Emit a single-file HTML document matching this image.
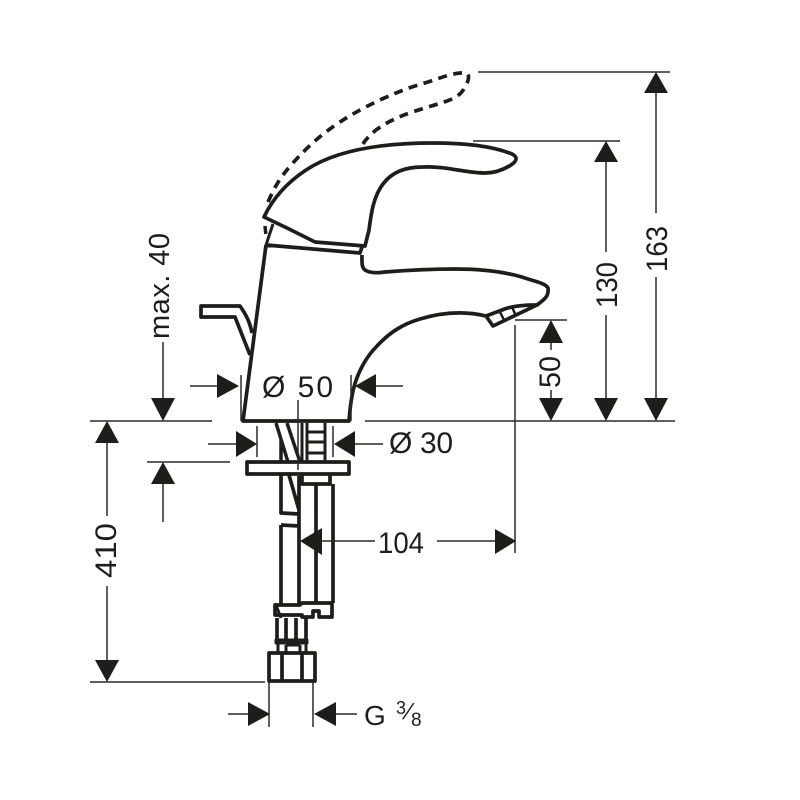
<!DOCTYPE html>
<html><head><meta charset="utf-8"><style>
html,body{margin:0;padding:0;background:#fff}
svg{display:block}
text{font-family:"Liberation Sans",sans-serif;font-size:30px;fill:#1d1d1b}
</style></head><body>
<svg width="800" height="800" viewBox="0 0 800 800" xmlns="http://www.w3.org/2000/svg">
<g fill="none" stroke="#1d1d1b" stroke-width="3" stroke-linejoin="round">
<!-- dashed handle -->
<path stroke-width="3.7" stroke-dasharray="9 6.5" d="M268 202C275 186 280 178 291 165C303 152 313 141 334 126C350 115 363 108 382 99C398 92 410 87 428 82C443 77 455 72 466 73C470 75 469 80 465 87C461 95 455 98 447 101C435 105 425 108 412 112C398 117 387 122 376 130C369 136 366 139 363 144"/>
<path stroke-width="3.5" stroke-dasharray="8 5" d="M265 226L266 236"/>
<!-- handle -->
<path stroke-width="3.7" d="M264 217C272 200 285 184 306 170C327 156 365 143 433 143C470 143 495 147 512 154C518 157 517 161 511 165C503 170 495 173 485 173C465 173 447 166 423 167C405 167 392 172 383 184C373 197 371 215 369 230L365 246L315 242L287 228L264 217Z"/>
<path d="M273 224L266 245"/>
<!-- body -->
<path stroke-width="3.7" d="M266 245L360 253L362 247M266 245L243 421H349C350 408 351 398 354 387C358 372 366 357 377 346C390 332 403 324 420 319C443 312 465 311 486 316"/>
<path stroke-width="3.7" d="M362 255C362 262 361 269 367 271C371 273 378 273 385 272C410 270 430 269 455 269C480 269 505 271 528 279C538 282 546 284 548 288C549 296 545 299 537 305"/>
<path stroke-width="3.7" d="M486 316L493 326L537 305C524 305 511 306 502 310L486 316Z"/>
<path stroke-width="2.5" d="M500 312L505 322M512 307L516 316"/>
<!-- lever -->
<path stroke-width="3.7" d="M252 333C250 323 247 316 240 306H201V317H235L250 355"/>
<!-- lower parts -->
<path stroke-width="3.7" d="M247 462H349V474H247Z"/>
<path stroke-width="3.5" d="M276 423L288 462M287 423L300 462M281 440V462"/>
<path stroke-width="3" d="M302 423V462M307 423V462M325 423V462M307 432H325M307 442H325M307 453H325"/>
<path stroke-width="3.7" d="M281 475V513L299 514M289 475L299 510M281 525L299 526M281 525V605M299 476V605M302 475V484H330V475M316 484V603M333 484V603"/>
<path stroke-width="3.7" d="M302 603H332V617H319V611H313V617H302V615H275L275 605H300Z"/>
<path stroke-width="3.7" d="M277 618V640M306 618V640M286 618V640M296 618V640"/>
<path stroke-width="3" d="M276 640H307V643H276ZM278 643V653M306 643V653M286 645V653M300 645V653M286 645H300"/>
<path stroke-width="3.7" d="M269 653H315V681H269ZM282 653V681M302 653V681"/>
<path d="M276 605L281 618"/>
</g>
<!-- dimension lines -->
<g fill="none" stroke="#2a2a28" stroke-width="1.5">
<path d="M478 72H670M473 141H620M365 421H675M515 320H567M90 421H212M90 682H265"/>
<path d="M656 93V213M656 277V400M606 162V252M606 315V400M551 343V350M551 390V400M515 325V553"/>
<path d="M107 443V516M107 586V660M163 342V400M163 484V522M147 462H230"/>
<path d="M190 386H217M376 386H403M241 375V421M351 375V421M298 400V470"/>
<path d="M208 444H236M355 444H383M257 426V457M333 426V457"/>
<path d="M322 541H375M437 541H495"/>
<path d="M228 714H248M336 714H357M269 682V727M313 682V727"/>
</g>
<!-- arrowheads -->
<g fill="#1d1d1b">
<path d="M656 72L668 93H644ZM656 421L668 398H644Z"/>
<path d="M606 141L618 162H594ZM606 421L618 398H594Z"/>
<path d="M551 320L563 343H539ZM551 421L563 398H539Z"/>
<path d="M107 421L119 443H95ZM107 682L119 660H95Z"/>
<path d="M163 421L175 398H151ZM163 462L175 484H151Z"/>
<path d="M239 386L217 374V398ZM355 386L376 374V398Z"/>
<path d="M257 444L236 431V457ZM334 444L355 431V457Z"/>
<path d="M300 541L322 528V555ZM516 541L495 529V554Z"/>
<path d="M270 714L248 702V726ZM314 714L336 702V726Z"/>
</g>
<!-- labels -->
<text x="262" y="397" textLength="71" lengthAdjust="spacing">Ø 50</text>
<text x="389" y="453" textLength="64" lengthAdjust="spacing">Ø 30</text>
<text x="378" y="553" textLength="46" lengthAdjust="spacingAndGlyphs">104</text>
<text x="364" y="725" style="font-size:28px">G</text>
<text x="396" y="714" style="font-size:18px">3</text>
<text transform="translate(402,719) skewX(-22)" style="font-size:22px">/</text>
<text x="411" y="726" style="font-size:19px">8</text>
<text transform="translate(667,272) rotate(-90)" textLength="46" lengthAdjust="spacingAndGlyphs">163</text>
<text transform="translate(617,308) rotate(-90)" textLength="46" lengthAdjust="spacingAndGlyphs">130</text>
<text transform="translate(560,388) rotate(-90)" textLength="32" lengthAdjust="spacingAndGlyphs">50</text>
<text transform="translate(116,578) rotate(-90)" textLength="55" lengthAdjust="spacingAndGlyphs">410</text>
<text transform="translate(169,339) rotate(-90)" textLength="106" lengthAdjust="spacing" style="font-size:29px">max. 40</text>
</svg>
</body></html>
